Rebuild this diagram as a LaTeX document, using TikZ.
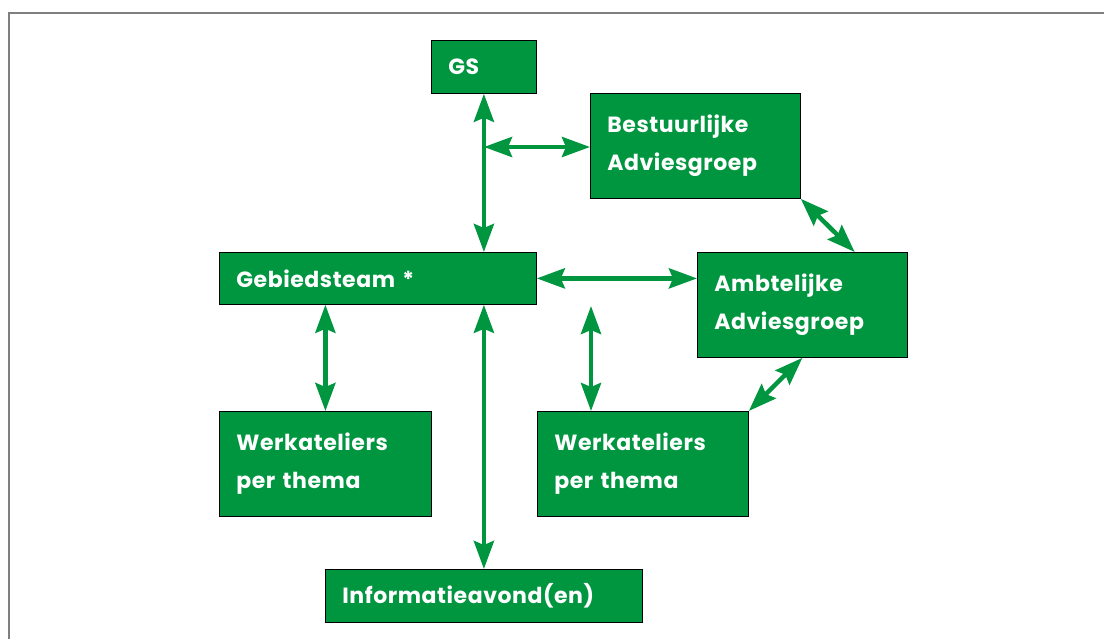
\documentclass[tikz,border=0pt]{standalone}
\usepackage{fontspec}
\setmainfont{Poppins}[LetterSpace=2.5]
\usetikzlibrary{arrows.meta,calc}
\definecolor{boxgreen}{HTML}{009640}
\definecolor{framegray}{HTML}{7F7F7F}
\tikzset{
  box/.style={draw=black, line width=0.8pt, fill=boxgreen, text=white,
    font=\bfseries\fontsize{22}{38}\selectfont, align=left,
    inner xsep=17pt, inner ysep=0pt, anchor=north west},
  link/.style={draw=boxgreen, line width=4.5pt,
    {Stealth[length=28pt,width=20pt,inset=4pt]}-{Stealth[length=28pt,width=20pt,inset=4pt]}}
}
\begin{document}
\begin{tikzpicture}[x=1pt,y=-1pt]
\useasboundingbox (0,0) rectangle (1104,639);
\draw[framegray, line width=2pt] (1104,13.5) -- (8.5,13.5) -- (8.5,639);

\node[box, text width=71pt, minimum height=53pt] (gs) at (431,40) {GS};
\node[box, text width=176pt, minimum height=105pt] (bag) at (590,93) {Bestuurlijke\\Adviesgroep};
\node[box, text width=283pt, minimum height=52pt] (geb) at (219,252) {Gebiedsteam *};
\node[box, text width=176pt, minimum height=105pt] (aag) at (697,252) {Ambtelijke\\Adviesgroep};
\node[box, text width=178pt, minimum height=105pt] (wl) at (219,411) {Werkateliers\\per thema};
\node[box, text width=177pt, minimum height=105pt] (wr) at (537,411) {Werkateliers\\per thema};
\node[box, text width=283pt, minimum height=53pt] (info) at (325,569) {Informatieavond(en)};

\coordinate (j) at (484,147);
\coordinate (t) at (591,306);

\draw[link] (gs.south) -- (gs.south |- geb.north);
\draw[link] (j) -- (j -| bag.west);
\draw[link] (bag.south east) -- ($(aag.north west)!0.748!(aag.north east)$);
\draw[link] (geb.east) -- (geb.east -| aag.west);
\draw[link] (wl.north |- geb.south) -- (wl.north);
\draw[link] (info.north |- geb.south) -- (info.north);
\draw[link] (t) -- (t |- wr.north);
\draw[link] (aag.south) -- (wr.north east);
\end{tikzpicture}
\end{document}
